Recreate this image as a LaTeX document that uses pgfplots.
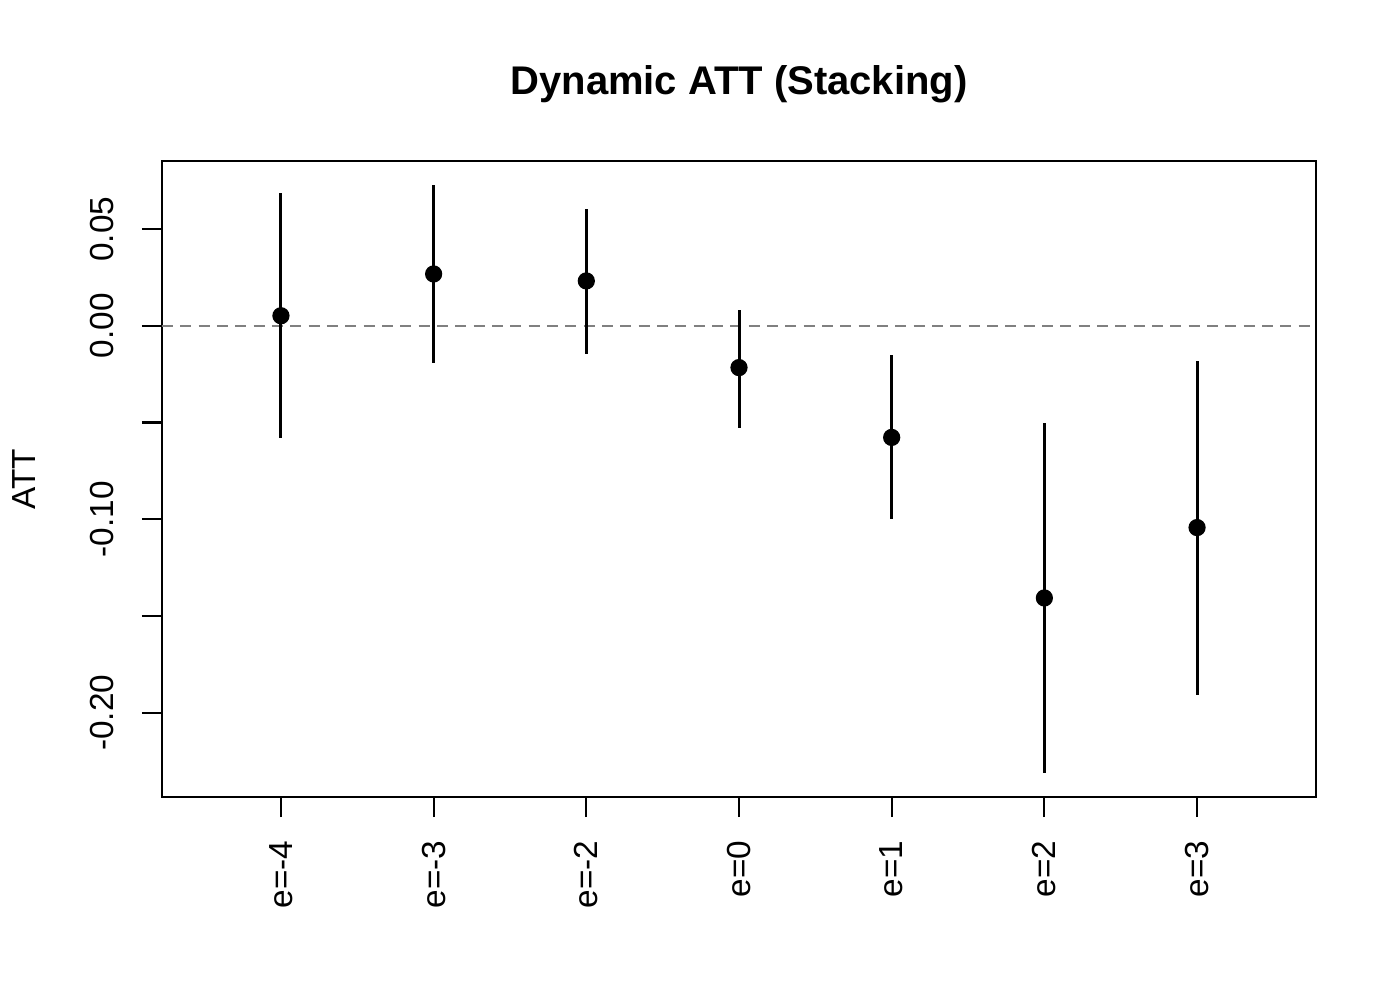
\documentclass[border=0pt]{standalone}
\usepackage{fontspec}
\setmainfont{Liberation Sans}
\usepackage{pgfplots}
\usepackage{pgfplotstable}
\pgfplotsset{compat=1.18}

\pgfplotstableread{
x att lo hi
1 0.0052 -0.0582 0.0686
2 0.0268 -0.0191 0.0727
3 0.0232 -0.0144 0.0603
4 -0.0216 -0.0526 0.0082
5 -0.0577 -0.1000 -0.0149
6 -0.1407 -0.2314 -0.0502
7 -0.1043 -0.1907 -0.0184
}\attdata

\begin{document}
\fontsize{12}{14}\selectfont
\begin{tikzpicture}
\useasboundingbox (-58.32pt,-73.08pt) rectangle (445.68pt,286.92pt);
\begin{axis}[
  at={(0,0)}, anchor=south west,
  width=415.44pt, height=228.96pt, scale only axis,
  xmin=0.221, xmax=7.779, ymin=-0.2436, ymax=0.0852,
  axis line style={line width=0.75pt},
  tick style={line width=0.75pt, black},
  tick align=outside, major tick length=7.2pt,
  xtick pos=lower, ytick pos=left,
  xtick={1,...,7},
  xticklabels={e=-4,e=-3,e=-2,e=0,e=1,e=2,e=3},
  xticklabel style={rotate=90, anchor=east, inner sep=0pt},
  xticklabel shift=8.3pt,
  ytick={-0.20,-0.15,-0.10,-0.05,0,0.05},
  yticklabels={-0.20,,-0.10,,0.00,0.05},
  yticklabel style={rotate=90, anchor=south, inner sep=0pt},
  yticklabel shift=10pt,
]
  \addplot[gray, line width=0.75pt, dash pattern=on 4pt off 2.6pt] coordinates {(0.221,0) (7.779,0)};
  \addplot[black, only marks, mark=*, mark size=2.9pt,
    error bars/.cd, y dir=both, y explicit, error mark=none,
    error bar style={line width=1.08pt}]
    table[x=x, y=att, y error plus expr=\thisrow{hi}-\thisrow{att},
          y error minus expr=\thisrow{att}-\thisrow{lo}] {\attdata};
  \coordinate (T) at (rel axis cs:0.5,1);
  \coordinate (L) at (rel axis cs:0,0.5);
\end{axis}
\node[anchor=base, font=\fontsize{14.4}{17}\selectfont\bfseries] at ([yshift=24.1pt]T) {Dynamic ATT (Stacking)};
\node[rotate=90, anchor=base] at ([xshift=-45.7pt]L) {ATT};
\end{tikzpicture}
\end{document}
